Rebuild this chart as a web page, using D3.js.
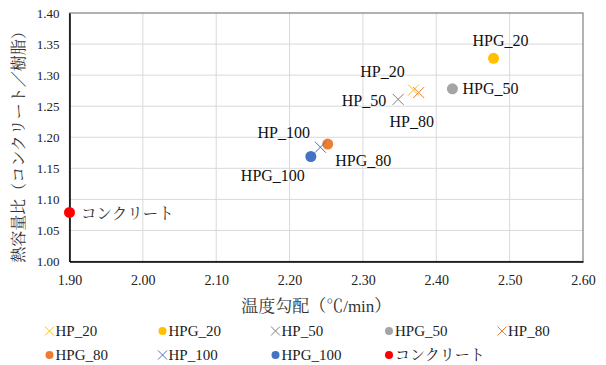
<!DOCTYPE html>
<html>
<head>
<meta charset="UTF-8">
<title>熱容量比</title>
</head>
<body style="margin:0;background:#fff">
<script src="https://cdn.jsdelivr.net/npm/d3@7"></script>
<script>
// data
const names   = ["HP_20", "HPG_20", "HP_50", "HPG_50", "HP_80", "HPG_80", "HP_100", "HPG_100", "コンクリート"];
const xVals   = [2.369, 2.478, 2.348, 2.422, 2.376, 2.252, 2.242, 2.229, 1.900];
const yVals   = [1.276, 1.327, 1.261, 1.278, 1.272, 1.189, 1.184, 1.169, 1.079];
const shapes  = ["x", "o", "x", "o", "x", "o", "x", "o", "o"];
const colors  = ["#FFC000", "#FFC000", "#7F7F7F", "#A5A5A5", "#ED7D31", "#ED7D31", "#4472C4", "#4472C4", "#FF0000"];
const xTicks  = [1.9, 2.0, 2.1, 2.2, 2.3, 2.4, 2.5, 2.6];
const yTicks  = [1.00, 1.05, 1.10, 1.15, 1.20, 1.25, 1.30, 1.35, 1.40];

// label offsets (dx, dy, anchor) for the point labels
const labelPos = [
  [-31, -13, "middle"], [7, -12.5, "middle"], [-12, 6.5, "end"], [10, 5, "start"],
  [-7, 34, "middle"], [7.5, 22, "start"], [-10.5, -9, "end"], [-38, 24.5, "middle"], [11.5, 7, "start"]
];

const width = 606, height = 365;
const margin = { top: 13, right: 23, bottom: 103.5, left: 69.5 };
const font = '"Liberation Serif", "Noto Serif CJK JP", serif';

const svg = d3.select("body").append("svg")
  .attr("width", width)
  .attr("height", height)
  .style("font-family", font);

const x = d3.scaleLinear().domain([1.9, 2.6]).range([margin.left, width - margin.right]);
const y = d3.scaleLinear().domain([1.0, 1.4]).range([height - margin.bottom, margin.top]);

// gridlines
svg.append("g").selectAll("line").data(xTicks.slice(1, -1)).enter().append("line")
  .attr("x1", d => x(d)).attr("x2", d => x(d))
  .attr("y1", y(1.0)).attr("y2", y(1.4))
  .attr("stroke", "#D9D9D9").attr("stroke-width", 1);
svg.append("g").selectAll("line").data(yTicks.slice(1, -1)).enter().append("line")
  .attr("x1", x(1.9)).attr("x2", x(2.6))
  .attr("y1", d => y(d)).attr("y2", d => y(d))
  .attr("stroke", "#D9D9D9").attr("stroke-width", 1);

// plot border
svg.append("rect")
  .attr("x", x(1.9)).attr("y", y(1.4))
  .attr("width", x(2.6) - x(1.9)).attr("height", y(1.0) - y(1.4))
  .attr("fill", "none").attr("stroke", "#7F7F7F").attr("stroke-width", 1.2);

// axes
const xAxis = svg.append("g")
  .attr("transform", `translate(0,${y(1.0)})`)
  .call(d3.axisBottom(x).tickValues(xTicks).tickFormat(d3.format(".2f")).tickSize(0).tickPadding(14));
const yAxis = svg.append("g")
  .attr("transform", `translate(${x(1.9)},0)`)
  .call(d3.axisLeft(y).tickValues(yTicks).tickFormat(d3.format(".2f")).tickSize(0).tickPadding(10));
[xAxis, yAxis].forEach(a => {
  a.attr("font-family", null).style("font-family", font);
  a.select(".domain").attr("stroke", "#000").attr("stroke-width", 1.5);
  a.selectAll("text").attr("fill", "#222");
});
xAxis.selectAll("text").attr("font-size", 14);
yAxis.selectAll("text").attr("font-size", 13);

// axis titles
svg.append("text")
  .attr("x", (x(1.9) + x(2.6)) / 2 - 10).attr("y", 312)
  .attr("text-anchor", "middle").attr("font-size", 17).attr("fill", "#333")
  .text("温度勾配（℃/min）");
svg.append("text")
  .attr("transform", `translate(24,143) rotate(-90)`)
  .attr("text-anchor", "middle").attr("font-size", 16).attr("fill", "#333")
  .text("熱容量比（コンクリート／樹脂）");

const idx = d3.range(names.length);

// markers
function drawMarker(g, shape, color, cx, cy, r) {
  if (shape === "o") {
    g.append("circle").attr("cx", cx).attr("cy", cy).attr("r", r).attr("fill", color);
  } else {
    g.append("path")
      .attr("d", `M${cx - r},${cy - r}L${cx + r},${cy + r}M${cx - r},${cy + r}L${cx + r},${cy - r}`)
      .attr("stroke", color).attr("stroke-width", 1).attr("fill", "none");
  }
}

const pts = svg.append("g");
idx.forEach(i => drawMarker(pts, shapes[i], colors[i], x(xVals[i]), y(yVals[i]), 5.5));

// point labels
svg.append("g").selectAll("text").data(idx).enter().append("text")
  .attr("x", i => x(xVals[i]) + labelPos[i][0])
  .attr("y", i => y(yVals[i]) + labelPos[i][1])
  .attr("text-anchor", i => labelPos[i][2])
  .attr("font-size", i => names[i] === "コンクリート" ? 15.5 : 16)
  .attr("fill", i => names[i] === "コンクリート" ? "#333" : "#111")
  .text(i => names[i]);

// legend
const legCols = [49.5, 162.5, 275.5, 389, 502];
const leg = svg.append("g");
idx.forEach(i => {
  const lx = legCols[i % 5], ly = i < 5 ? 336 : 360;
  drawMarker(leg, shapes[i], colors[i], lx, ly - 5, shapes[i] === "o" ? 4 : 4.5);
  leg.append("text")
    .attr("x", lx + 6).attr("y", ly)
    .attr("font-size", 15).attr("fill", "#222")
    .text(names[i]);
});
</script>
</body>
</html>
